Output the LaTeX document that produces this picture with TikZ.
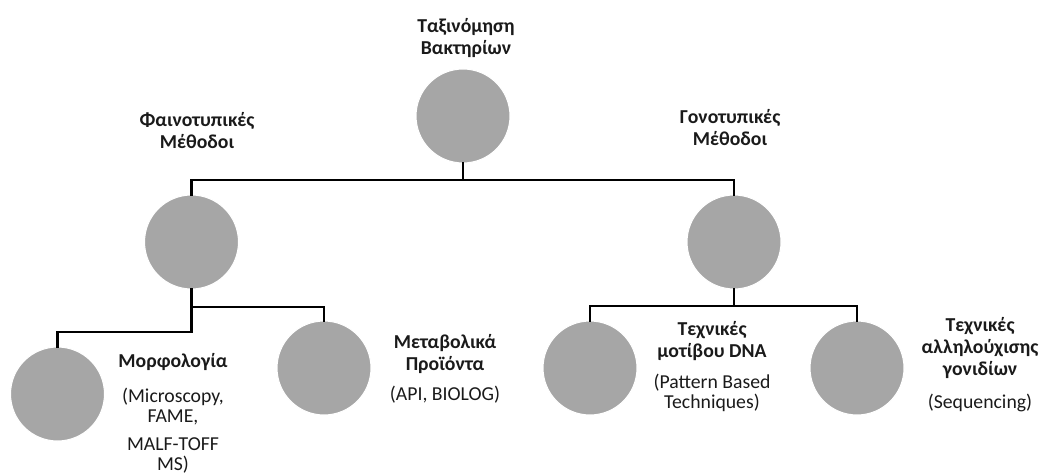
\documentclass[tikz,border=0pt]{standalone}
\usepackage{fontspec}
\setmainfont{Carlito}
\begin{document}
\begin{tikzpicture}[x=0.75pt,y=-0.75pt,
  disc/.style={circle,fill=circgray,draw=white,line width=0.8pt,minimum size=70.5pt,inner sep=0pt},
  conn/.style={line width=1.8pt,black,line cap=rect},
  hd/.style={align=center,font=\bfseries\fontsize{14.8}{16.5}\selectfont,text=txt},
  desc/.style={align=center,font=\fontsize{14.8}{15}\selectfont,text=txt}]
\definecolor{circgray}{HTML}{A6A6A6}
\definecolor{txt}{HTML}{1A1A1A}
\useasboundingbox (0,0) rectangle (1041,474);
% circles
\node[disc] (t) at (463,116) {};
\node[disc] (l) at (191.5,242) {};
\node[disc] (r) at (734,242) {};
\node[disc] (m) at (57.5,394) {};
\node[disc] (b) at (324,368) {};
\node[disc] (d) at (590,368) {};
\node[disc] (s) at (857,368) {};
% junction coordinates
\coordinate (hA) at (463,180);
\coordinate (hB) at (191.5,307);
\coordinate (hC) at (191.5,332);
\coordinate (hD) at (734,306);
% connectors
\draw[conn] (t.south) -- (hA);
\draw[conn] (l.north) -- (l.north |- hA) -- (r.north |- hA) -- (r.north);
\draw[conn] (l.south) -- (hC) -- (m.north |- hC) -- (m.north);
\draw[conn] (hB) -- (b.north |- hB) -- (b.north);
\draw[conn] (r.south) -- (hD);
\draw[conn] (d.north) -- (d.north |- hD) -- (s.north |- hD) -- (s.north);
% labels
\node[hd] (tl) at (466,38) {Ταξινόμηση\\Βακτηρίων};
\node[hd] (ll) at (197,131) {Φαινοτυπικές\\Μέθοδοι};
\node[hd] (rl) at (730,128) {Γονοτυπικές\\Μέθοδοι};
\node[hd] (ml) at (173,362) {Μορφολογία};
\node[desc] (md) at (173,431) {(Microscopy,\\FAME,\\[6pt]MALF-TOFF\\MS)};
\node[hd] (bl) at (445,354) {Μεταβολικά\\Προϊόντα};
\node[desc] (bd) at (445,395) {(API, BIOLOG)};
\node[hd] (dl) at (712,341) {Τεχνικές\\μοτίβου DNA};
\node[desc] (dd) at (712,393) {(Pattern Based\\Techniques)};
\node[hd] (sl) at (980,348) {Τεχνικές\\αλληλούχισης\\γονιδίων};
\node[desc] (sd) at (980,403) {(Sequencing)};
\end{tikzpicture}
\end{document}
